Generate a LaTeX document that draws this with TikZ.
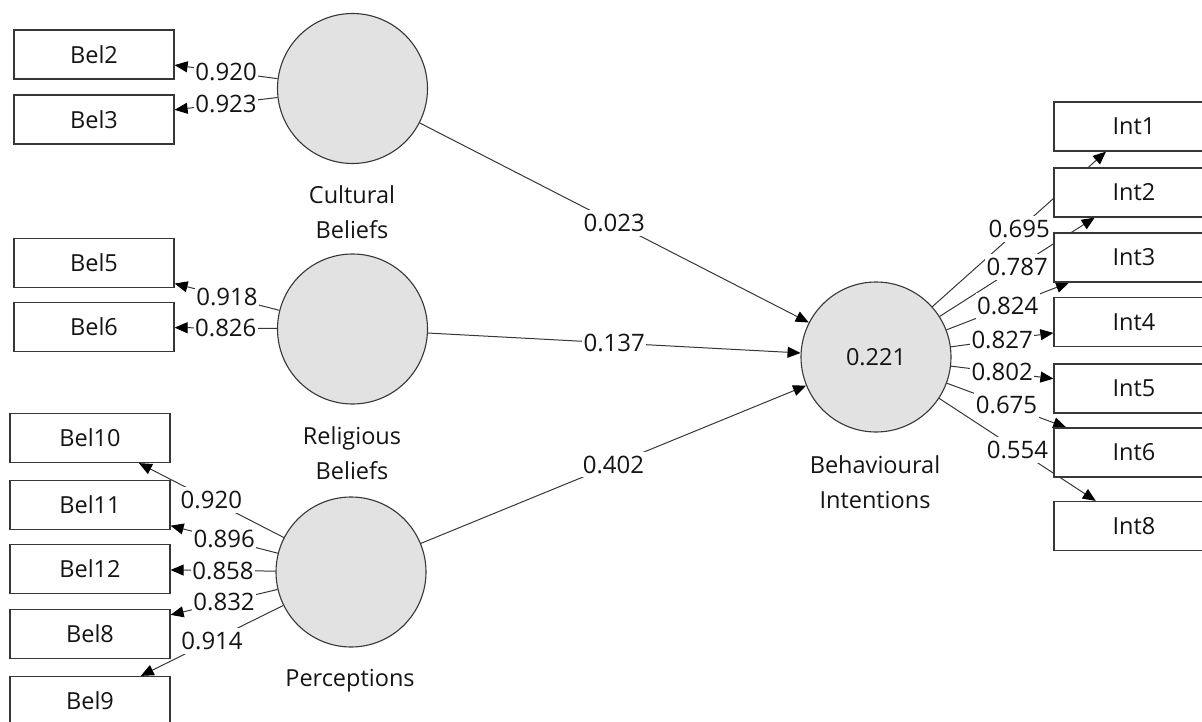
\documentclass[tikz,border=0pt]{standalone}
\usepackage{fontspec}
\setmainfont{Open Sans}
\usetikzlibrary{arrows.meta,backgrounds}

\definecolor{plsFill}{RGB}{226,226,226}
\definecolor{plsLine}{RGB}{55,55,55}
\definecolor{plsText}{RGB}{20,20,20}

\tikzset{
  latent/.style={circle, draw=plsLine, fill=plsFill, line width=1.1pt, minimum size=150pt, inner sep=0pt, text=plsText, font=\fontsize{23.5}{28}\selectfont},
  indic/.style={rectangle, draw=plsLine, fill=white, line width=1.2pt, minimum width=160pt, minimum height=49pt, inner sep=0pt, text=plsText, font=\fontsize{23.5}{28}\selectfont},
  caption/.style={align=center, inner sep=0pt, text=plsText, font=\fontsize{23.5}{35}\selectfont},
  coef/.style={fill=white, inner xsep=1.5pt, inner ysep=4pt, text=plsText, font=\fontsize{24}{28}\selectfont},
  load/.style={draw=plsLine, line width=1pt, -{Triangle[length=13pt,width=11pt,color=black]}}
}

\begin{document}
\begin{tikzpicture}[x=1pt, y=-1pt]
    \useasboundingbox (0,0) rectangle (1202,722);
    \clip (0,0) rectangle (1202,722);

    % latent variables
    \node[latent] (cb) at (352.5,88.5) {};
    \node[latent] (rb) at (352.5,329) {};
    \node[latent] (pc) at (351,572) {};
    \node[latent] (bi) at (876,357) {0.221};

    \node[caption] (cbcap) at (352,212) {Cultural\\Beliefs};
    \node[caption] (rbcap) at (352,453) {Religious\\Beliefs};
    \node[caption, anchor=base] (pccap) at (350,686) {Perceptions};
    \node[caption] (bicap) at (875,482) {Behavioural\\Intentions};

    % indicators, left side
    \node[indic] (bel2) at (94,54.5) {Bel2};
    \node[indic] (bel3) at (94,119.5) {Bel3};
    \node[indic] (bel5) at (94,263) {Bel5};
    \node[indic] (bel6) at (94,327) {Bel6};
    \node[indic] (bel10) at (90,438) {Bel10};
    \node[indic] (bel11) at (90,505) {Bel11};
    \node[indic] (bel12) at (90,569) {Bel12};
    \node[indic] (bel8) at (90,634) {Bel8};
    \node[indic] (bel9) at (90,701) {Bel9};

    % indicators, right side
    \node[indic] (int1) at (1134,126.5) {Int1};
    \node[indic] (int2) at (1134,192.5) {Int2};
    \node[indic] (int3) at (1134,257.5) {Int3};
    \node[indic] (int4) at (1134,322) {Int4};
    \node[indic] (int5) at (1134,388.5) {Int5};
    \node[indic] (int6) at (1134,452.5) {Int6};
    \node[indic] (int8) at (1134,526) {Int8};

    \begin{scope}[on background layer]
        % outer loadings
        \draw[load] (cb) -- node[coef] (l2) {0.920} (bel2);
        \draw[load] (cb) -- node[coef] (l3) {0.923} (bel3);
        \draw[load] (rb) -- node[coef] (l5) {0.918} (bel5);
        \draw[load] (rb) -- node[coef] (l6) {0.826} (bel6);
        \draw[load] (pc) -- node[coef] (l10) {0.920} (bel10);
        \draw[load] (pc) -- node[coef] (l11) {0.896} (bel11);
        \draw[load] (pc) -- node[coef] (l12) {0.858} (bel12);
        \draw[load] (pc) -- node[coef] (l8) {0.832} (bel8);
        \draw[load] (pc) -- node[coef] (l9) {0.914} (bel9);

        \draw[load] (bi) -- node[coef] (m1) {0.695} (int1);
        \draw[load] (bi) -- node[coef] (m2) {0.787} (int2);
        \draw[load] (bi) -- node[coef] (m3) {0.824} (int3);
        \draw[load] (bi) -- node[coef] (m4) {0.827} (int4);
        \draw[load] (bi) -- node[coef] (m5) {0.802} (int5);
        \draw[load] (bi) -- node[coef] (m6) {0.675} (int6);
        \draw[load] (bi) -- node[coef] (m8) {0.554} (int8);

        % path coefficients
        \draw[load] (cb) -- node[coef] (p1) {0.023} (bi);
        \draw[load] (rb) -- node[coef] (p2) {0.137} (bi);
        \draw[load] (pc) -- node[coef] (p3) {0.402} (bi);
    \end{scope}
\end{tikzpicture}
\end{document}
